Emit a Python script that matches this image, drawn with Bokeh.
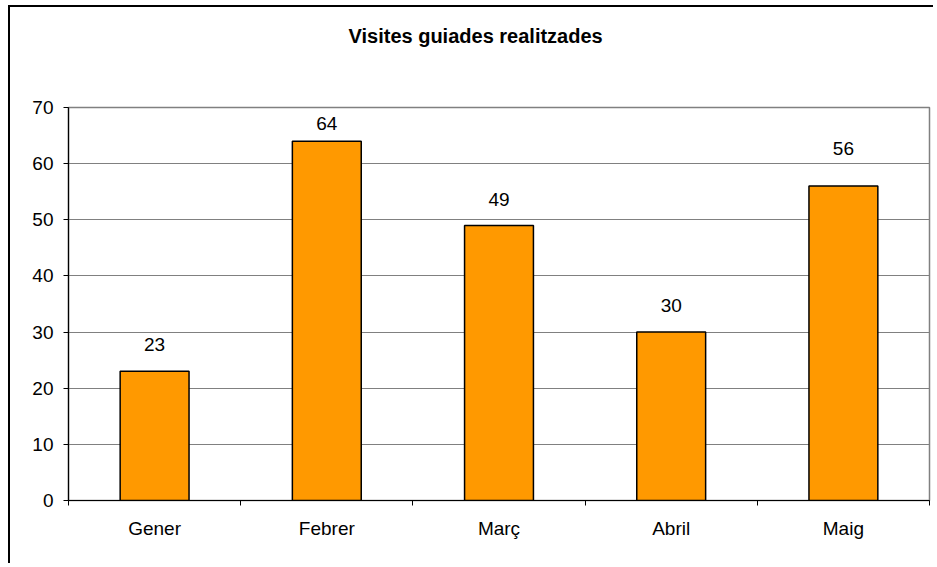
from bokeh.plotting import figure
from bokeh.models import Range1d, FixedTicker, ColumnDataSource, LinearAxis, Grid, Title
from bokeh.core.properties import value
from bokeh.embed import file_html
from bokeh.resources import INLINE

title_text = "Visites guiades realitzades"
months = ["Gener", "Febrer", "Març", "Abril", "Maig"]
visits = [23, 64, 49, 30, 56]
y_ticks = [0, 10, 20, 30, 40, 50, 60, 70]

# pixel gap of each value label above its bar (style, as placed in the original)
label_gap_px = [20, 11, 19, 20, 31]

FONT = "Liberation Sans"

xs = list(range(1, len(months) + 1))
src = ColumnDataSource(dict(x=xs, top=visits, label=[str(v) for v in visits],
                            yoff=[-g for g in label_gap_px]))

p = figure(width=925, height=558, output_backend="svg", toolbar_location=None,
           x_range=Range1d(0.5, len(months) + 0.5), y_range=Range1d(0, 70),
           x_axis_type=None, y_axis_type=None,
           min_border_left=58, min_border_right=6, min_border_top=100, min_border_bottom=65)
p.styles = {"border-left": "2px solid black", "border-top": "2px solid black",
            "margin-left": "8px", "margin-top": "5px"}

# spacer panel between the frame and the title
p.add_layout(Title(text=" ", text_font_size="2px", standoff=52), "above")

p.title.text = title_text
p.title.text_font = FONT
p.title.text_font_size = "20px"
p.title.text_font_style = "bold"
p.title.align = "left"
p.title.offset = 280
p.title.standoff = 10
p.title.text_color = "black"

p.background_fill_color = "white"
p.border_fill_color = "white"
p.outline_line_color = "#808080"
p.outline_line_width = 1.5

# y axis
ya = LinearAxis(ticker=FixedTicker(ticks=y_ticks, minor_ticks=[]))
ya.axis_line_color = "black"
ya.axis_line_width = 1.2
ya.major_tick_line_color = "black"
ya.major_tick_in = 0
ya.major_tick_out = 5
ya.minor_tick_line_color = None
ya.major_label_text_font = FONT
ya.major_label_text_font_size = "19px"
ya.major_label_text_color = "black"
ya.major_label_standoff = 10
p.add_layout(ya, "left")

# x axis: labels at centres, ticks at category boundaries
xa = LinearAxis(ticker=FixedTicker(ticks=xs,
                                   minor_ticks=[i + 0.5 for i in range(0, len(months) + 1)]))
xa.major_label_overrides = {x: m for x, m in zip(xs, months)}
xa.axis_line_color = "black"
xa.axis_line_width = 1.2
xa.major_tick_line_color = None
xa.major_tick_in = 0
xa.major_tick_out = 0
xa.minor_tick_line_color = "black"
xa.minor_tick_in = 0
xa.minor_tick_out = 5
xa.major_label_text_font = FONT
xa.major_label_text_font_size = "19px"
xa.major_label_text_color = "black"
xa.major_label_standoff = 12
p.add_layout(xa, "below")

g = Grid(dimension=1, ticker=FixedTicker(ticks=y_ticks[1:-1]))
g.grid_line_color = "#808080"
g.grid_line_width = 1.2
p.add_layout(g)

p.vbar(x="x", top="top", width=0.4, bottom=0, source=src,
       fill_color="#FF9900", line_color="black", line_width=1.5)

p.text(x="x", y="top", text="label", source=src, text_align="center",
       text_baseline="bottom", y_offset="yoff", text_font=value(FONT),
       text_font_size="19px", text_color="black")

open("out.html", "w").write(file_html(p, INLINE))
